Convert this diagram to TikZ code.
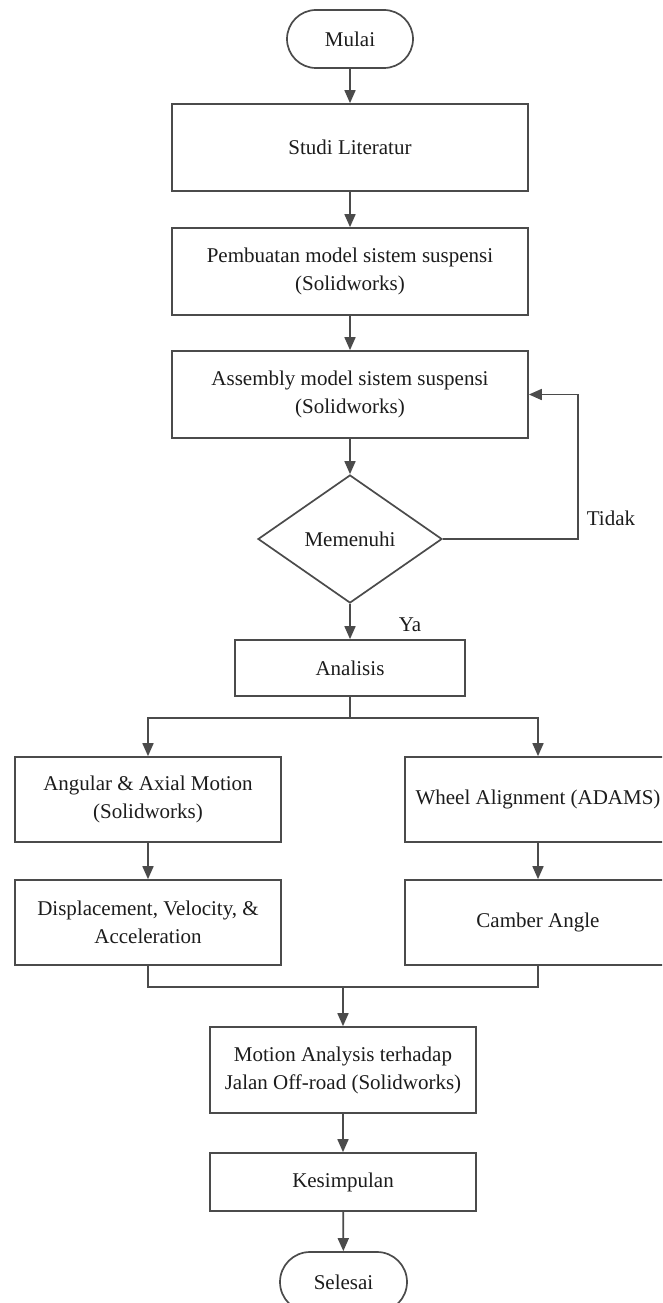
\documentclass[tikz,border=0pt]{standalone}
\usepackage{fontspec}
\setmainfont{Liberation Serif}
\usetikzlibrary{arrows.meta,shapes.geometric}
\definecolor{ln}{RGB}{75,75,75}
\definecolor{tx}{RGB}{28,28,28}
\tikzset{
  base/.style={draw=ln, line width=1.7pt, text=tx, inner sep=0pt, align=center,
    font=\fontsize{21}{28}\selectfont},
  procbox/.style={base, rectangle},
  term/.style={base, rectangle, rounded corners=29pt, minimum width=126pt, minimum height=58pt},
  decision/.style={base, diamond, shape aspect=1.44, minimum width=184pt, minimum height=128pt},
  arr/.style={draw=ln, line width=1.7pt, -{Triangle[width=11pt,length=13pt]}},
  ln/.style={draw=ln, line width=1.7pt},
  lbl/.style={text=tx, inner sep=0pt, font=\fontsize{21}{26}\selectfont}
}
\begin{document}
\begin{tikzpicture}[x=1pt,y=-1pt]
\useasboundingbox (0,0) rectangle (662,1303);
\clip (0,0) rectangle (662,1303);
\fill[white] (0,0) rectangle (662,1303);

\node[term] (mulai) at (350,39) {Mulai};
\node[procbox, minimum width=356pt, minimum height=87pt] (studi) at (350,147.5) {Studi Literatur};
\node[procbox, minimum width=356pt, minimum height=87pt] (buat) at (350,271.5) {Pembuatan model sistem suspensi\\(Solidworks)};
\node[procbox, minimum width=356pt, minimum height=87pt] (asm) at (350,394.5) {Assembly model sistem suspensi\\(Solidworks)};
\node[decision] (dec) at (350,539) {Memenuhi};
\node[procbox, minimum width=230pt, minimum height=56pt] (anal) at (350,668) {Analisis};
\node[procbox, minimum width=266pt, minimum height=85pt] (ang) at (148,799.5) {Angular \& Axial Motion\\(Solidworks)};
\node[procbox, minimum width=266pt, minimum height=85pt] (wheel) at (538,799.5) {Wheel Alignment (ADAMS)};
\node[procbox, minimum width=266pt, minimum height=85pt] (disp) at (148,922.5) {Displacement, Velocity, \&\\Acceleration};
\node[procbox, minimum width=266pt, minimum height=85pt] (camb) at (538,922.5) {Camber Angle};
\node[procbox, minimum width=266pt, minimum height=86pt] (mot) at (343,1070) {Motion Analysis terhadap\\Jalan Off-road (Solidworks)};
\node[procbox, minimum width=266pt, minimum height=58pt] (kes) at (343,1182) {Kesimpulan};
\node[term, minimum width=127pt, minimum height=60pt, rounded corners=30pt] (sel) at (343.5,1282) {Selesai};

\coordinate (fbr) at (578,539);
\coordinate (fbt) at (578,394.5);
\coordinate (split) at (350,718);
\coordinate (sl) at (148,718);
\coordinate (sr) at (538,718);
\coordinate (ml) at (148,987);
\coordinate (mr) at (538,987);
\coordinate (mm) at (343,987);

\draw[arr] (mulai) -- (studi);
\draw[arr] (studi) -- (buat);
\draw[arr] (buat) -- (asm);
\draw[arr] (asm) -- (dec);
\draw[arr] (dec.east) -- (fbr) -- (fbt) -- (asm.east);
\draw[arr] (dec) -- (anal);
\draw[ln] (anal.south) -- (split);
\draw[arr] (split) -- (sl) -- (ang.north);
\draw[arr] (split) -- (sr) -- (wheel.north);
\draw[arr] (ang) -- (disp);
\draw[arr] (wheel) -- (camb);
\draw[ln] (disp.south) -- (ml) -- (mr) -- (camb.south);
\draw[arr] (mm) -- (mot.north);
\draw[arr] (mot) -- (kes);
\draw[arr] (kes) -- (sel);

\node[lbl] (tidak) at (611,518) {Tidak};
\node[lbl] (ya) at (410,625) {Ya};
\end{tikzpicture}
\end{document}
